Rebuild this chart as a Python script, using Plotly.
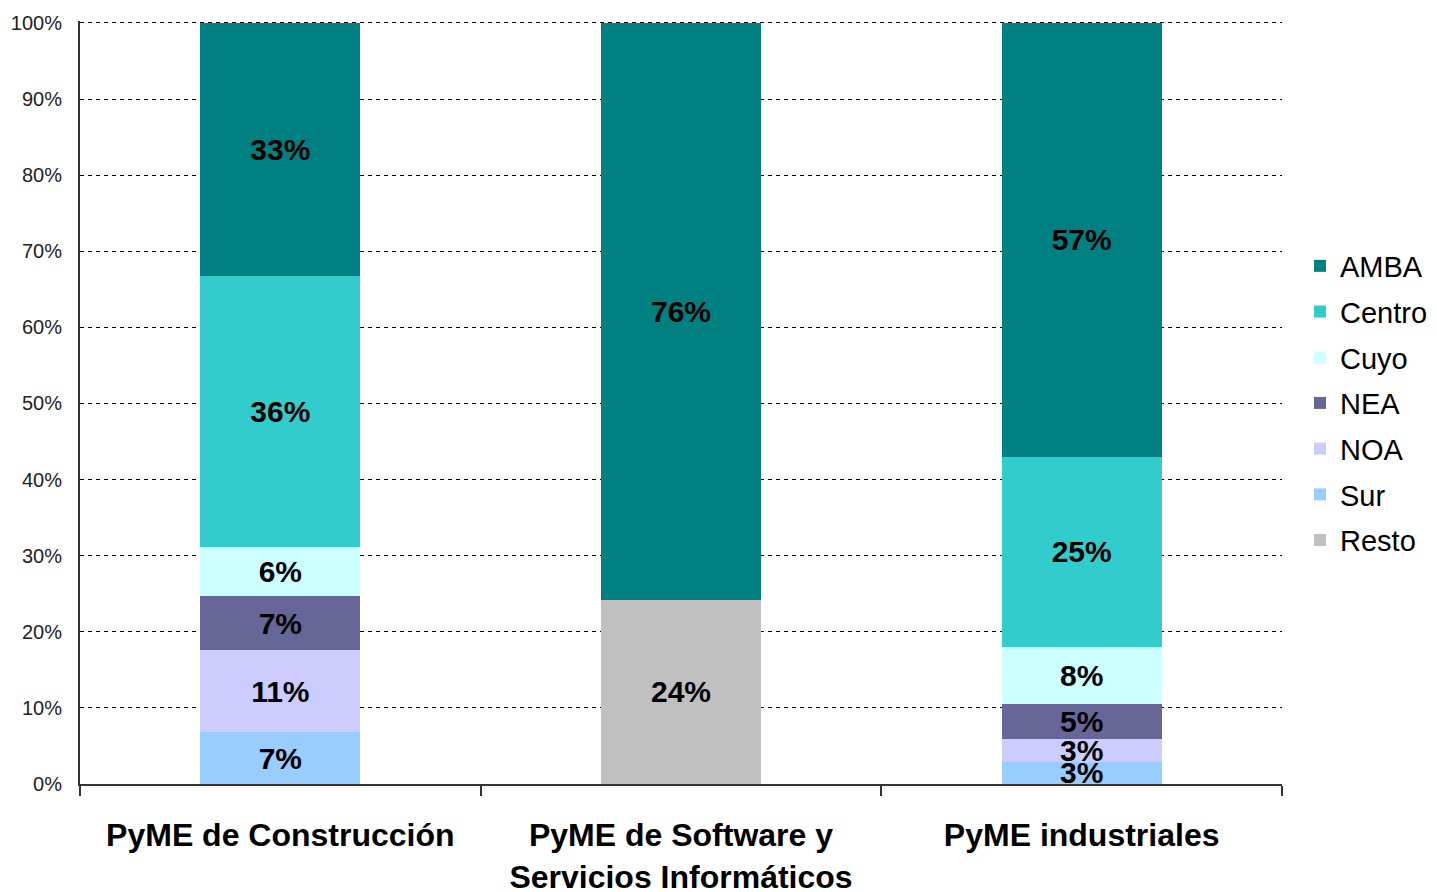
import plotly.graph_objects as go

categories = ["PyME de Construcción", "PyME de Software y<br>Servicios Informáticos", "PyME industriales"]

# stacked bottom -> top
sur = [6.8, None, 2.9]
noa = [10.8, None, 3.0]
nea = [7.1, None, 4.6]
cuyo = [6.4, None, 7.5]
centro = [35.6, None, 25.0]
amba = [33.3, 75.8, 57.0]
resto = [None, 24.2, None]

ytick_vals = [0, 10, 20, 30, 40, 50, 60, 70, 80, 90, 100]
ytick_text = [f"{v}%" for v in ytick_vals]

series = [
    ("Resto", resto, "#C0C0C0"),
    ("Sur", sur, "#99CCFF"),
    ("NOA", noa, "#CCCCFF"),
    ("NEA", nea, "#666699"),
    ("Cuyo", cuyo, "#CCFFFF"),
    ("Centro", centro, "#33CCCC"),
    ("AMBA", amba, "#008080"),
]

FONT = "Liberation Sans, Arial, sans-serif"
W, H = 1429, 884

fig = go.Figure()
n = len(series)
for i, (name, vals, color) in enumerate(series):
    txt = [("" if v is None else f"{round(v):d}%") for v in vals]
    fig.add_trace(go.Bar(
        x=categories, y=vals, name=name, legendgroup=name,
        legendrank=n - i,
        marker=dict(color=color, line=dict(width=0)),
        text=txt, textposition="inside", insidetextanchor="middle",
        textangle=0,
        textfont=dict(family=FONT, size=30, color="black", weight="bold"),
        hoverinfo="skip",
    ))

fig.update_layout(
    barmode="stack",
    bargap=0.6,
    width=W, height=H,
    margin=dict(l=72, r=155, t=13, b=108, autoexpand=False),
    plot_bgcolor="white", paper_bgcolor="white",
    uniformtext=dict(minsize=30, mode="show"),
    font=dict(family=FONT, color="black"),
    legend=dict(
        traceorder="grouped", tracegroupgap=5,
        xref="container", yref="container",
        x=1292 / W, xanchor="left", y=1 - 395 / H, yanchor="middle",
        font=dict(family=FONT, size=29, color="black"),
        bgcolor="rgba(0,0,0,0)",
    ),
    showlegend=True,
)
fig.update_yaxes(
    range=[0, 100.25], tickmode="array", tickvals=ytick_vals, ticktext=ytick_text,
    showgrid=True, gridcolor="black", gridwidth=1, griddash="4px,4px",
    showline=True, linecolor="#333", linewidth=2,
    ticks="", ticklabelstandoff=12,
    tickfont=dict(family=FONT, size=20, color="#222"),
    zeroline=False, automargin=False,
)
fig.update_xaxes(
    showline=True, linecolor="#333", linewidth=2,
    ticks="outside", tickson="boundaries", ticklen=10, tickcolor="#333", tickwidth=2,
    ticklabelstandoff=22,
    tickfont=dict(family=FONT, size=32, color="black", weight="bold"),
    mirror=False, automargin=False,
)

fig.write_html("out.html")
